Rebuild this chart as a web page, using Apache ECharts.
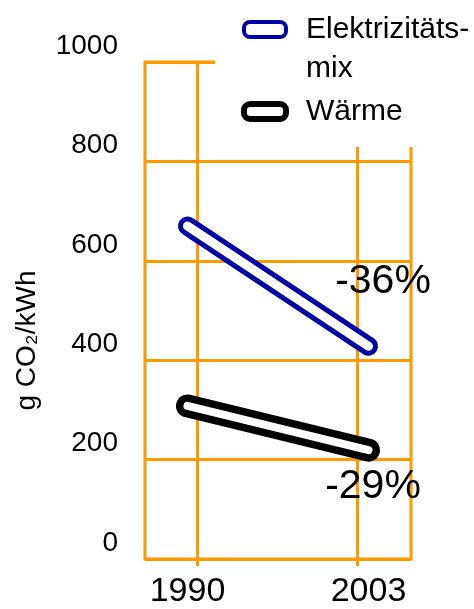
<!DOCTYPE html>
<html><head><meta charset="utf-8">
<script src="https://cdn.jsdelivr.net/npm/echarts@6/dist/echarts.min.js"></script>
<style>html,body{margin:0;padding:0;background:#fff}#c{width:474px;height:609px}</style>
</head><body><div id="c"></div>
<script>
// ---- data ----
const years = [1990, 2003];
const yearLabels = ['1990', '2003'];
const elektrizitaetsmix = [670, 428];
const waerme = [308, 219];
const changeLabels = ['-36%', '-29%'];
const seriesNames = ['Elektrizitätsmix', 'Wärme'];
const yMin = 0, yMax = 1000, yStep = 200;

// ---- style ----
const ORANGE = '#ff9900', BLUE = '#0000a8', BLACK = '#000000';
const FONT = 'Liberation Sans';
const capsule = 'path://M6,0H36A6,6 0 0 1 42,6V9A6,6 0 0 1 36,15H6A6,6 0 0 1 0,9V6A6,6 0 0 1 6,0Z';

function points(vals, labelText, labelOffset) {
  return years.map((x, i) => {
    const d = { value: [x, vals[i]] };
    if (labelText && i === years.length - 1) {
      d.symbol = 'circle';
      d.symbolSize = 1;
      d.itemStyle = { color: '#fff' };
      d.label = {
        show: true, formatter: labelText, position: 'inside', offset: labelOffset,
        fontSize: 41, fontFamily: FONT, color: '#000'
      };
    }
    return d;
  });
}

function capsuleSeries(name, vals, color, outerW, innerW, labelText, labelOffset) {
  const base = {
    type: 'line', name: name, xAxisIndex: 0, yAxisIndex: 0,
    symbol: 'none', showSymbol: true, silent: true, animation: false,
    emphasis: { disabled: true }
  };
  return [
    Object.assign({}, base, {
      data: points(vals),
      lineStyle: { color: color, width: outerW, cap: 'round', join: 'round' }
    }),
    Object.assign({}, base, {
      data: points(vals, labelText, labelOffset),
      lineStyle: { color: '#ffffff', width: innerW, cap: 'round', join: 'round' }
    })
  ];
}

const legendText = { fontSize: 30, fontFamily: FONT, color: '#000', lineHeight: 39, padding: [0, 0, 0, 15] };

const chart = echarts.init(document.getElementById('c'));
chart.setOption({
  animation: false,
  backgroundColor: '#fff',
  grid: {
    left: 145, top: 62, width: 266, height: 497.5,
    show: true, borderColor: ORANGE, borderWidth: 3
  },
  legend: {
    orient: 'vertical', left: 215, top: -29,
    padding: [0, 0, 16, 26], itemGap: 4,
    itemWidth: 42, itemHeight: 15, symbolKeepAspect: false,
    backgroundColor: '#fff', selectedMode: false,
    formatter: n => n === seriesNames[0] ? '\nElektrizitäts-\nmix' : n,
    textStyle: legendText,
    data: [
      { name: seriesNames[0], icon: capsule,
        itemStyle: { color: '#fff', borderColor: BLUE, borderWidth: 4 }, textStyle: legendText },
      { name: seriesNames[1], icon: capsule,
        itemStyle: { color: '#fff', borderColor: BLACK, borderWidth: 6 }, textStyle: legendText }
    ]
  },
  xAxis: [
    {
      type: 'value', position: 'bottom', min: 1986.95, max: 2006.05,
      axisLine: { show: false }, axisTick: { show: false }, splitLine: { show: false },
      axisLabel: {
        customValues: years,
        formatter: v => yearLabels[years.indexOf(v)],
        fontSize: 34, fontFamily: FONT, color: '#000', margin: 16
      }
    },
    {
      type: 'value', position: 'bottom', min: 1985.76, max: 2007.32,
      axisLine: { show: false },
      axisLabel: { show: false, customValues: years },
      axisTick: { show: true, customValues: years, length: 7, lineStyle: { color: ORANGE, width: 3 } },
      splitLine: { show: true, lineStyle: { color: ORANGE, width: 3 } }
    }
  ],
  yAxis: {
    type: 'value', min: yMin, max: yMax, interval: yStep,
    axisLine: { show: false }, axisTick: { show: false },
    splitLine: { show: true, lineStyle: { color: ORANGE, width: 3 } },
    axisLabel: {
      formatter: v => String(v),
      fontSize: 28, fontFamily: FONT, color: '#000', margin: 27,
      verticalAlign: 'bottom', lineHeight: 28, padding: [0, 0, 2, 0]
    },
    name: 'g CO₂/kWh', nameLocation: 'middle', nameRotate: 90, nameGap: 104,
    nameTextStyle: { fontSize: 28, fontFamily: FONT, color: '#000', padding: [0, 60, 0, 0] }
  },
  series: [
    ...capsuleSeries(seriesNames[0], elektrizitaetsmix, BLUE, 19, 9, changeLabels[0], [14.5, -64.7]),
    ...capsuleSeries(seriesNames[1], waerme, BLACK, 23, 8, changeLabels[1], [4.5, 36.8])
  ]
});
</script>
</body></html>
